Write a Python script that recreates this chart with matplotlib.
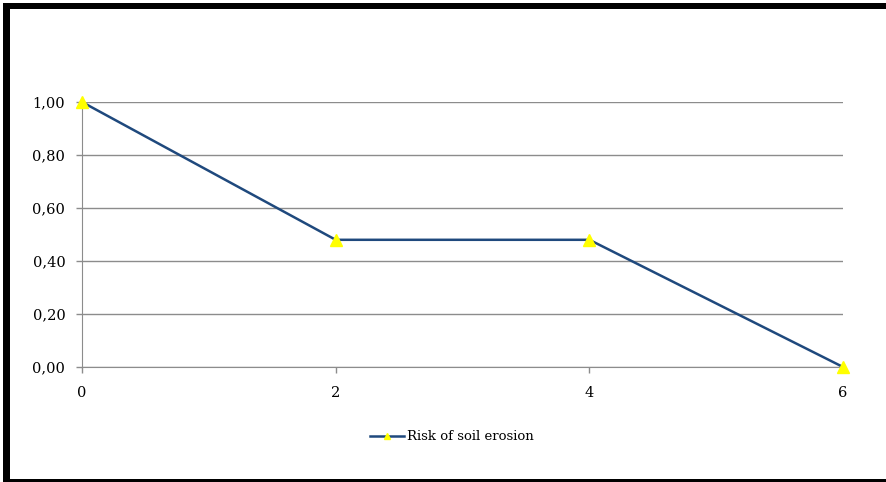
import matplotlib.pyplot as plt
from matplotlib.patches import Rectangle
from matplotlib.ticker import FuncFormatter

x_values = [0, 2, 4, 6]
risk_values = [1.00, 0.48, 0.48, 0.00]
x_ticks = [0, 2, 4, 6]
y_ticks = [0.0, 0.2, 0.4, 0.6, 0.8, 1.0]

plt.rcParams['font.family'] = ['DejaVu Serif']

W, H = 886, 482
fig = plt.figure(figsize=(W / 100, H / 100), dpi=100)
ax = fig.add_axes([82 / W, 1 - 367 / H, (843 - 82) / W, (367 - 102) / H])

ax.plot(x_values, risk_values, color='#1F497D', linewidth=1.8,
        marker='^', markersize=8, markerfacecolor='#FFFF00',
        markeredgecolor='#FFFF00', label='Risk of soil erosion',
        clip_on=False, zorder=3)

ax.set_xlim(0, 6)
ax.set_ylim(0, 1)
ax.set_xticks(x_ticks)
ax.set_yticks(y_ticks)
ax.yaxis.set_major_formatter(FuncFormatter(lambda v, p: f'{v:.2f}'.replace('.', ',')))
ax.grid(axis='y', color='#8C8C8C', linewidth=1)
for side in ['top', 'right']:
    ax.spines[side].set_visible(False)
ax.spines['left'].set_color('#8C8C8C')
ax.spines['bottom'].set_color('#8C8C8C')
ax.tick_params(axis='both', colors='#8C8C8C', labelcolor='black', labelsize=10.5,
               length=4, width=1)
ax.tick_params(axis='x', pad=10)
ax.tick_params(axis='y', pad=8)

ax.legend(loc='center', bbox_to_anchor=(452 / W, 1 - 437 / H),
          bbox_transform=fig.transFigure, frameon=False, fontsize=9.5,
          handlelength=2.6, handletextpad=0.2, markerscale=0.6)

# black frame around the chart (left, top and bottom edges)
frame = dict(transform=fig.transFigure, color='black', lw=0, clip_on=False)
fig.patches.append(Rectangle((3 / W, 0), 7 / W, 1 - 3 / H, **frame))
fig.patches.append(Rectangle((3 / W, 1 - 9 / H), 1, 6 / H, **frame))
fig.patches.append(Rectangle((3 / W, 0), 1, 3 / H, **frame))

fig.savefig('out.png', dpi=100)
